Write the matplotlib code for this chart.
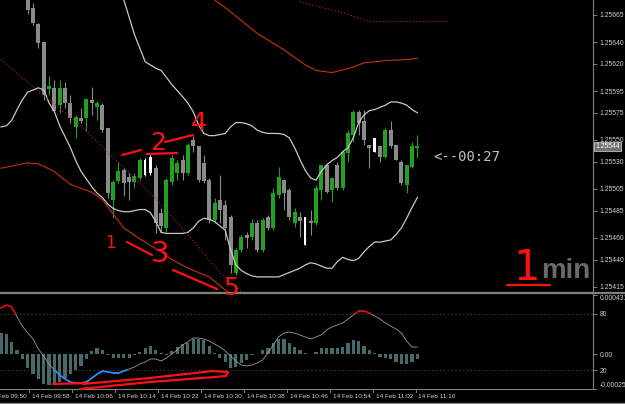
import numpy as np
import matplotlib
matplotlib.use('Agg')
import matplotlib.pyplot as plt
import matplotlib.transforms as mtransforms
from matplotlib.lines import Line2D

# ---------------- data ----------------
first_candle = 5  # bars 0..4 sit above the visible price range

opens = [1.25688, 1.25671, 1.25657, 1.25640, 1.25597, 1.25598, 1.25582, 1.25598, 1.25584, 1.25562,
         1.25570, 1.25570, 1.25587, 1.25580, 1.25582, 1.25561, 1.25495, 1.25512, 1.25522, 1.25516,
         1.25511, 1.25515, 1.25518, 1.25520, 1.25524, 1.25483, 1.25469, 1.25511, 1.25520, 1.25532,
         1.25520, 1.25550, 1.25544, 1.25529, 1.25513, 1.25476, 1.25495, 1.25490, 1.25479, 1.25428,
         1.25449, 1.25463, 1.25461, 1.25474, 1.25449, 1.25479, 1.25469, 1.25499, 1.25513, 1.25504,
         1.25474, 1.25479, 1.25479, 1.25475, 1.25474, 1.25504, 1.25527, 1.25504, 1.25527, 1.25506,
         1.25538, 1.25555, 1.25576, 1.25567, 1.25545, 1.25539, 1.25544, 1.25534, 1.25559, 1.25545,
         1.25530, 1.25509, 1.25525, 1.25543]
highs = [1.25693, 1.25676, 1.25658, 1.25640, 1.25609, 1.25605, 1.25605, 1.25603, 1.25591, 1.25573,
         1.25579, 1.25589, 1.25599, 1.25586, 1.25584, 1.25561, 1.25513, 1.25530, 1.25524, 1.25520,
         1.25520, 1.25533, 1.25533, 1.25536, 1.25527, 1.25487, 1.25515, 1.25536, 1.25532, 1.25536,
         1.25547, 1.25554, 1.25544, 1.25536, 1.25515, 1.25497, 1.25518, 1.25495, 1.25481, 1.25451,
         1.25463, 1.25465, 1.25477, 1.25476, 1.25478, 1.25481, 1.25506, 1.25525, 1.25514, 1.25506,
         1.25487, 1.25484, 1.25479, 1.25486, 1.25509, 1.25527, 1.25529, 1.25516, 1.25530, 1.25541,
         1.25559, 1.25578, 1.25578, 1.25578, 1.25545, 1.25552, 1.25544, 1.25561, 1.25567, 1.25545,
         1.25532, 1.25527, 1.25548, 1.25555]
lows = [1.25666, 1.25656, 1.25635, 1.25587, 1.25591, 1.25577, 1.25575, 1.25579, 1.25566, 1.25552,
        1.25566, 1.25558, 1.25573, 1.25568, 1.25557, 1.25497, 1.25478, 1.25510, 1.25498, 1.25495,
        1.25506, 1.25513, 1.25517, 1.25518, 1.25464, 1.25465, 1.25465, 1.25509, 1.25513, 1.25513,
        1.25518, 1.25539, 1.25511, 1.25510, 1.25474, 1.25474, 1.25474, 1.25458, 1.25428, 1.25426,
        1.25447, 1.25451, 1.25458, 1.25447, 1.25447, 1.25467, 1.25467, 1.25497, 1.25486, 1.25476,
        1.25470, 1.25461, 1.25453, 1.25463, 1.25472, 1.25495, 1.25501, 1.25493, 1.25504, 1.25504,
        1.25530, 1.25548, 1.25555, 1.25545, 1.25524, 1.25539, 1.25530, 1.25533, 1.25543, 1.25532,
        1.25509, 1.25501, 1.25524, 1.25533]
closes = [1.25670, 1.25658, 1.25639, 1.25591, 1.25600, 1.25577, 1.25598, 1.25584, 1.25570, 1.25571,
          1.25567, 1.25588, 1.25584, 1.25584, 1.25559, 1.25501, 1.25511, 1.25521, 1.25510, 1.25511,
          1.25517, 1.25532, 1.25532, 1.25534, 1.25474, 1.25471, 1.25513, 1.25533, 1.25529, 1.25520,
          1.25545, 1.25544, 1.25513, 1.25512, 1.25476, 1.25492, 1.25486, 1.25469, 1.25435, 1.25449,
          1.25461, 1.25460, 1.25474, 1.25449, 1.25476, 1.25469, 1.25501, 1.25516, 1.25501, 1.25479,
          1.25484, 1.25475, 1.25453, 1.25474, 1.25506, 1.25527, 1.25502, 1.25515, 1.25506, 1.25539,
          1.25556, 1.25576, 1.25566, 1.25550, 1.25543, 1.25552, 1.25534, 1.25559, 1.25544, 1.25532,
          1.25510, 1.25527, 1.25544, 1.25544]
white_bars = [27, 28, 57, 70]

# Bollinger bands
upper_bars = [21, 23, 25, 27, 29, 30, 32, 34] + list(range(35, 79))
upper_band = [1.25711, 1.25679, 1.25647, 1.25622, 1.25616, 1.25614, 1.25601, 1.25590,
              1.25584, 1.25576, 1.25564, 1.25556, 1.25554, 1.25554, 1.25555, 1.25556, 1.25562, 1.25566,
              1.25566, 1.25565, 1.25563, 1.25559, 1.25557, 1.25556, 1.25556, 1.25556, 1.25555, 1.25552,
              1.25543, 1.25532, 1.25522, 1.25515, 1.25513, 1.25521, 1.25527, 1.25531, 1.25534, 1.25539,
              1.25543, 1.25552, 1.25566, 1.25573, 1.25577, 1.25578, 1.25580, 1.25582, 1.25585, 1.25585,
              1.25584, 1.25582, 1.25578, 1.25575]
lower_band = [1.25562, 1.25563, 1.25568, 1.25578, 1.25587, 1.25594, 1.25596, 1.25598, 1.25596, 1.25584,
              1.25576, 1.25563, 1.25553, 1.25543, 1.25531, 1.25521, 1.25514, 1.25507, 1.25501, 1.25497,
              1.25491, 1.25487, 1.25485, 1.25484, 1.25484, 1.25485, 1.25486, 1.25486, 1.25483, 1.25475,
              1.25465, 1.25464, 1.25464, 1.25464, 1.25464, 1.25465, 1.25469, 1.25475, 1.25478, 1.25477,
              1.25475, 1.25471, 1.25467, 1.25449, 1.25435, 1.25430, 1.25427, 1.25425, 1.25424, 1.25424,
              1.25424, 1.25424, 1.25424, 1.25426, 1.25428, 1.25430, 1.25432, 1.25435, 1.25437, 1.25436,
              1.25434, 1.25432, 1.25432, 1.25438, 1.25442, 1.25440, 1.25439, 1.25441, 1.25447, 1.25452,
              1.25456, 1.25456, 1.25457, 1.25458, 1.25463, 1.25469, 1.25478, 1.25488, 1.25497]

# shifted averages
env_low_bars = [0, 4, 9, 15, 22, 29, 35, 41, 46]
env_low = [1.25624, 1.25607, 1.25587, 1.25563, 1.25529, 1.25496, 1.25463, 1.25428, 1.25406]
env_high_bars = [55, 56, 60, 64, 69, 75, 84]
env_high = [1.25682, 1.25677, 1.25672, 1.25667, 1.25659, 1.25659, 1.25659]
ma_high_bars = [38, 40, 43, 48, 53, 57, 59, 62, 66, 68, 72, 76, 78]
ma_high = [1.25688, 1.25679, 1.25668, 1.25648, 1.25633, 1.25619, 1.25614, 1.25612, 1.25617,
           1.25621, 1.25623, 1.25624, 1.25625]
ma_low_bars = [0, 5, 7, 10, 13, 17, 19, 21, 23, 26, 30, 32, 35, 39, 42, 44]
ma_low = [1.25524, 1.25529, 1.25528, 1.25521, 1.25509, 1.25502, 1.25495, 1.25482, 1.25469,
          1.25459, 1.25447, 1.25440, 1.25432, 1.25424, 1.25412, 1.25405]

# sub window
osma = np.array([154, 147, 88, 29, -37, -103, -147, -183, -220, -227,
                 -220, -205, -176, -147, -117, -88, -37, 22, 44, 29,
                 -7, -29, -29, -29, -29, -7, 15, 44, 59, 29,
                 7, -7, 22, 51, 73, 81, 110, 110, 103, 59,
                 7, -29, -59, -103, -95, -66, -44, -7, 0, 29,
                 44, 81, 110, 110, 81, 51, 29, 7, 0, 15,
                 44, 44, 44, 44, 51, 81, 103, 95, 59, 29,
                 7, -22, -29, -37, -59, -73, -73, -59, -37]) * 1e-6
stoch = [86.4, 89.6, 87.5, 76.8, 67.1, 59.6, 53.2, 42.5, 35.0, 26.4,
         20.0, 14.6, 10.4, 7.1, 6.1, 6.1, 7.1, 11.4, 15.7, 18.9,
         17.9, 16.8, 16.8, 18.9, 21.1, 23.2, 26.4, 28.6, 31.8, 31.8,
         29.6, 32.9, 37.1, 41.4, 46.8, 50.0, 54.3, 54.3, 53.2, 51.1,
         47.9, 44.6, 40.4, 35.0, 29.6, 25.4, 24.3, 25.4, 27.5, 30.7,
         38.2, 46.8, 55.4, 59.6, 60.7, 59.6, 57.5, 55.4, 53.2, 55.4,
         57.5, 62.9, 66.1, 68.2, 70.4, 74.6, 78.9, 83.2, 83.2, 81.1,
         77.9, 74.6, 70.4, 67.1, 63.9, 59.6, 51.1, 44.6, 44.6]

price_ticks = [1.25665, 1.25640, 1.25620, 1.25595, 1.25575, 1.25550, 1.25530,
               1.25505, 1.25485, 1.25460, 1.25440, 1.25415]
time_labels = ['14 Feb 09:50', '14 Feb 09:58', '14 Feb 10:06', '14 Feb 10:14', '14 Feb 10:22',
               '14 Feb 10:30', '14 Feb 10:38', '14 Feb 10:46', '14 Feb 10:54', '14 Feb 11:02',
               '14 Feb 11:10']
last_price = 1.25544
countdown = '<--00:27'

# ---------------- figure ----------------
W, H = 625, 404
fig = plt.figure(figsize=(W / 100, H / 100), dpi=100, facecolor='black')


def fx(px):
    return px / W


def fy(py):
    return 1 - py / H


ax = fig.add_axes([0, fy(292), fx(593), 292 / H], facecolor='black')
ax_sub = fig.add_axes([0, fy(388.7), fx(593), 93.4 / H], facecolor='black')
ax_st = ax_sub.twinx()

xlim = (-0.19, 110.9)
axis_col = '#d0d0d0'
line_col = '#808080'
label_size = 4.9

# candles
idx = np.arange(first_candle, first_candle + len(opens))
o = np.array(opens)
c = np.array(closes)
cols = np.where(c > o, '#22a022', '#8a8a8a').astype(object)
widths = np.full(len(o), 0.75)
for b in white_bars:
    cols[b - first_candle] = '#ffffff'
    widths[b - first_candle] = 0.45
body_low = np.minimum(o, c)
body_h = np.maximum(np.abs(c - o), 0.6e-5)
ax.vlines(idx, lows, highs, colors=list(cols), lw=0.8)
ax.bar(idx, body_h, bottom=body_low, width=widths, color=list(cols), linewidth=0)

# lines
band_col = '#c8c8c8'
ax.plot(upper_bars, upper_band, color=band_col, lw=0.9)
ax.plot(np.arange(len(lower_band)), lower_band, color=band_col, lw=0.9)
ax.plot(ma_high_bars, ma_high, color='#c83200', lw=0.8)
ax.plot(ma_low_bars, ma_low, color='#c83200', lw=0.8)
ax.plot(env_low_bars, env_low, color='#c0146e', lw=0.8, ls=(0, (1, 2)))
ax.plot(env_high_bars, env_high, color='#c0146e', lw=0.8, ls=(0, (1, 2)))

ax.set_xlim(*xlim)
ax.set_ylim(1.254101, 1.256788)
ax.set_xticks([])
ax.yaxis.tick_right()
ax.set_yticks(price_ticks)
ax.set_yticklabels(['%.5f' % p for p in price_ticks], family='Liberation Sans')
ax.tick_params(axis='y', colors=line_col, labelcolor=axis_col, labelsize=label_size, length=3, width=0.7, pad=1.5)
for s in ['top', 'left', 'bottom']:
    ax.spines[s].set_visible(False)
ax.spines['right'].set_color(line_col)
ax.spines['right'].set_linewidth(0.8)

# current price box and countdown
ax.text(1.004, last_price, '%.5f' % last_price,
        transform=mtransforms.blended_transform_factory(ax.transAxes, ax.transData),
        ha='left', va='center', fontsize=label_size, color='#ffffff', family='Liberation Sans', clip_on=False,
        bbox=dict(boxstyle='square,pad=0.15', facecolor='#707070', edgecolor='#c0c0c0', linewidth=0.6))
fig.text(fx(433), fy(157), countdown, color='#c0c0c0', fontsize=10, family='DejaVu Sans Mono',
         ha='left', va='center')
fig.text(fx(566), fy(271), 'min', color='#6a6a6a', fontsize=20, fontweight='bold',
         family=['Liberation Sans Narrow', 'Liberation Sans'], ha='center', va='center')

# sub window: histogram + stochastic
bars = np.arange(len(osma))
ax_sub.bar(bars, osma, width=0.6, color='#466a6a', linewidth=0)
ax_sub.set_ylim(-0.0002531, 0.0004315)
ax_sub.set_xlim(*xlim)
ax_sub.set_xticks([])
ax_sub.yaxis.tick_right()
ax_sub.set_yticks([0.0004315, 0.0, -0.0002531])
ax_sub.set_yticklabels(['0.0004315', '0.00', '-0.0002531'], family='Liberation Sans')
ax_sub.tick_params(axis='y', colors=line_col, labelcolor=axis_col, labelsize=label_size, length=3, width=0.7, pad=1.5)
labs = ax_sub.get_yticklabels()
labs[0].set_va('top')
labs[2].set_va('bottom')

ax_st.set_ylim(0, 100)
ax_st.axhline(80, color='#5a5a5a', lw=0.7, ls=(0, (1, 3)))
ax_st.axhline(20, color='#5a5a5a', lw=0.7, ls=(0, (1, 3)))
k_fine = np.linspace(0, len(stoch) - 1, 3000)
v_fine = np.interp(k_fine, np.arange(len(stoch)), stoch)
ax_st.plot(np.arange(len(stoch)), stoch, color='#9a9a9a', lw=0.6)
ax_st.plot(k_fine, np.ma.masked_where(v_fine < 80, v_fine), color='#c81010', lw=1.3)
ax_st.plot(k_fine, np.ma.masked_where(v_fine > 20, v_fine), color='#2a8cf0', lw=1.3)
ax_st.set_yticks([80, 20])
ax_st.set_yticklabels(['80', '20'], family='Liberation Sans')
ax_st.tick_params(axis='y', colors=line_col, labelcolor=axis_col, labelsize=label_size, length=3, width=0.7, pad=1.5)
for a in (ax_sub, ax_st):
    for s in ['top', 'left', 'bottom', 'right']:
        a.spines[s].set_visible(False)

# time axis
trans = mtransforms.blended_transform_factory(ax_sub.transData, ax_sub.transAxes)
time_pos = 5.3 + 8.045 * np.arange(-1, len(time_labels) - 1)
for kt, lab in zip(time_pos, time_labels):
    ax_sub.plot([kt, kt], [0, -0.04], transform=trans, color=line_col, lw=0.7, clip_on=False)
    ax_sub.text(kt + 0.5, -0.08, lab, transform=trans, ha='left', va='center', fontsize=4.6,
                color=axis_col, family='Liberation Sans', clip_on=False)

# frame lines
fig.add_artist(Line2D([0, 1], [fy(293), fy(293)], color=line_col, lw=1.6))
fig.add_artist(Line2D([0, fx(593)], [fy(389), fy(389)], color=line_col, lw=0.8))
fig.add_artist(Line2D([fx(593), fx(593)], [fy(293), fy(389)], color=line_col, lw=0.8))
fig.add_artist(Line2D([0, 1], [fy(402.5), fy(402.5)], color=line_col, lw=1.0))

# hand-drawn red notes (figure pixels)
note_red = '#ff1010'
note_digits = ['1', '2', '3', '4', '5']
note_xy = [(110, 243), (158, 143), (160, 254), (199, 123), (231, 288)]
note_size = [12, 18, 21, 18, 18]
for d, (px, py), s in zip(note_digits, note_xy, note_size):
    fig.text(fx(px), fy(py), d, color=note_red, fontsize=s, ha='center', va='center', family='DejaVu Sans')
fig.text(fx(527), fy(268), '1', color=note_red, fontsize=30, ha='center', va='center', family='DejaVu Sans')

note_strokes = [
    [(122, 155), (141, 150)],
    [(147, 154), (177, 153)],
    [(165, 142), (193, 135)],
    [(127, 242), (152, 255)],
    [(173, 270), (217, 289)],
    [(507, 285), (550, 285)],
    [(53, 384), (88, 383)],
    [(83, 384), (150, 378), (213, 371), (228, 372), (226, 376), (215, 377)],
    [(80, 389), (150, 382), (215, 377)],
]
for st in note_strokes:
    xs = [fx(p[0]) for p in st]
    ys = [fy(p[1]) for p in st]
    fig.add_artist(Line2D(xs, ys, color=note_red, lw=1.6, solid_capstyle='round'))

fig.savefig('out.png', dpi=100, facecolor='black')
